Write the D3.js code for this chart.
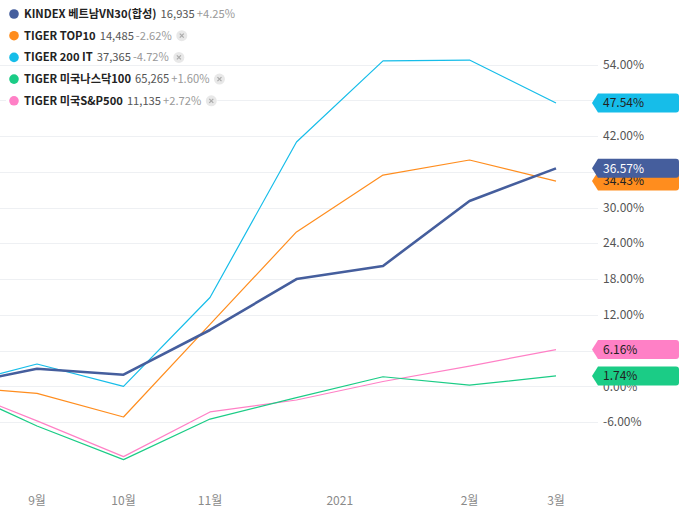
<!DOCTYPE html>
<html>
<head>
<meta charset="utf-8">
<script src="https://cdn.jsdelivr.net/npm/d3@7"></script>
<style>
  body { margin: 0; background: #fff; }
  svg { display: block; font-family: "Noto Sans CJK KR", "Noto Sans", sans-serif; }
</style>
</head>
<body>
<div id="chart"></div>
<script>
// monthly return (%) since the start point
var months = ["8월", "9월", "10월", "11월", "12월", "1월", "2월", "3월"];
var vn30   = [0, 2.95, 1.95, 9.45, 18.0, 20.2, 31.1, 36.57];
var top10  = [0, -1.2, -5.15, 10.4, 25.9, 35.45, 37.97, 34.43];
var it200  = [0, 3.74, 0.0, 14.9, 41.0, 54.6, 54.75, 47.54];
var nasdaq = [0, -6.66, -12.3, -5.5, -1.9, 1.6, 0.2, 1.74];
var sp500  = [0, -5.8, -11.8, -4.3, -2.3, 0.8, 3.4, 6.16];

var seriesNames  = ["KINDEX 베트남VN30(합성)", "TIGER TOP10", "TIGER 200 IT", "TIGER 미국나스닥100", "TIGER 미국S&P500"];
var seriesPrices = ["16,935", "14,485", "37,365", "65,265", "11,135"];
var seriesChange = ["+4.25%", "-2.62%", "-4.72%", "+1.60%", "+2.72%"];
var seriesColors = ["#455e9d", "#ff8d1e", "#16bde9", "#1bcc86", "#ff80c6"];
var seriesValues = [vn30, top10, it200, nasdaq, sp500];

var yTicks = [-6, 0, 6, 12, 18, 24, 30, 36, 42, 48, 54];
var xTickLabels = ["9월", "10월", "11월", "2021", "2월", "3월"];
var xTickAt     = [["9월"], ["10월"], ["11월"], ["12월", "1월"], ["2월"], ["3월"]];

var width = 681, height = 516;
var plotRight = 598;

var svg = d3.select("#chart").append("svg")
  .attr("width", width)
  .attr("height", height);

var x = d3.scalePoint().domain(months).range([-49.5, 556]);
var y = d3.scaleLinear().domain([0, 54]).range([386.3, 64.5]);

// grid
svg.append("g").selectAll("line")
  .data(yTicks)
  .enter().append("line")
  .attr("x1", 0).attr("x2", plotRight)
  .attr("y1", function(d) { return Math.round(y(d)) + 0.5; })
  .attr("y2", function(d) { return Math.round(y(d)) + 0.5; })
  .attr("stroke", "#eef0f3")
  .attr("stroke-width", 1);

// y labels
svg.append("g").selectAll("text")
  .data(yTicks)
  .enter().append("text")
  .attr("x", 603)
  .attr("y", function(d) { return y(d); })
  .attr("dy", "0.35em")
  .attr("font-size", 12)
  .attr("fill", "#555")
  .text(function(d) { return d.toFixed(2) + "%"; });

// x labels
svg.append("g").selectAll("text")
  .data(xTickLabels)
  .enter().append("text")
  .attr("x", function(d, i) { return d3.mean(xTickAt[i], function(m) { return x(m); }); })
  .attr("y", 501)
  .attr("dy", "0.35em")
  .attr("text-anchor", "middle")
  .attr("font-size", 12)
  .attr("fill", "#8a8a8a")
  .text(function(d) { return d; });

svg.append("clipPath").attr("id", "plotclip")
  .append("rect").attr("x", 0).attr("y", 0).attr("width", plotRight).attr("height", height);

var line = d3.line()
  .x(function(d, i) { return x(months[i]); })
  .y(function(d) { return y(d); });

var drawOrder = [4, 3, 2, 1, 0];
var lines = svg.append("g").attr("clip-path", "url(#plotclip)");
drawOrder.forEach(function(s) {
  lines.append("path")
    .attr("d", line(seriesValues[s]))
    .attr("fill", "none")
    .attr("stroke", seriesColors[s])
    .attr("stroke-width", s == 0 ? 2.6 : 1.2)
    .attr("stroke-linejoin", "round");
});

// legend
var legend = svg.append("g");
seriesNames.forEach(function(name, i) {
  var cy = 14 + i * 21.7;
  var row = legend.append("g");
  var bg = row.append("rect").attr("fill", "#fff");
  row.append("circle").attr("cx", 14).attr("cy", cy).attr("r", 4.8).attr("fill", seriesColors[i]);
  var t = row.append("text").attr("x", 24).attr("y", cy).attr("dy", "0.35em").attr("font-size", 11.2);
  t.append("tspan").attr("font-weight", "bold").attr("fill", "#222").text(name);
  t.append("tspan").attr("dx", 4).attr("fill", "#555").text(seriesPrices[i]);
  t.append("tspan").attr("dx", 2).attr("fill", "#999").text(seriesChange[i]);
  var end = 24 + t.node().getBBox().width;
  if (i > 0) {
    var bx = end + 10;
    row.append("circle").attr("cx", bx).attr("cy", cy).attr("r", 5.5).attr("fill", "#e8e8e8");
    row.append("path")
      .attr("d", "M" + (bx - 2) + "," + (cy - 2) + "L" + (bx + 2) + "," + (cy + 2) + "M" + (bx + 2) + "," + (cy - 2) + "L" + (bx - 2) + "," + (cy + 2))
      .attr("stroke", "#aaa").attr("stroke-width", 1.2);
    end = bx + 6;
  }
  bg.attr("x", 6).attr("y", cy - 6).attr("width", end - 6).attr("height", 12);
});

// last value tags
var tagOrder = [2, 4, 3, 1, 0];
var tags = svg.append("g");
tagOrder.forEach(function(s) {
  var v = seriesValues[s][seriesValues[s].length - 1];
  var cy = y(v);
  var x0 = 592, x1 = 598, x2 = 679, h = 9.5, r = 3;
  var p = "M" + x0 + "," + cy +
    "L" + x1 + "," + (cy - h) +
    "L" + (x2 - r) + "," + (cy - h) +
    "Q" + x2 + "," + (cy - h) + " " + x2 + "," + (cy - h + r) +
    "L" + x2 + "," + (cy + h - r) +
    "Q" + x2 + "," + (cy + h) + " " + (x2 - r) + "," + (cy + h) +
    "L" + x1 + "," + (cy + h) + "Z";
  tags.append("path").attr("d", p).attr("fill", seriesColors[s]);
  tags.append("text")
    .attr("x", 603).attr("y", cy).attr("dy", "0.35em")
    .attr("font-size", 12)
    .attr("fill", s == 0 ? "#fff" : "#222")
    .text(v.toFixed(2) + "%");
});
</script>
</body>
</html>
